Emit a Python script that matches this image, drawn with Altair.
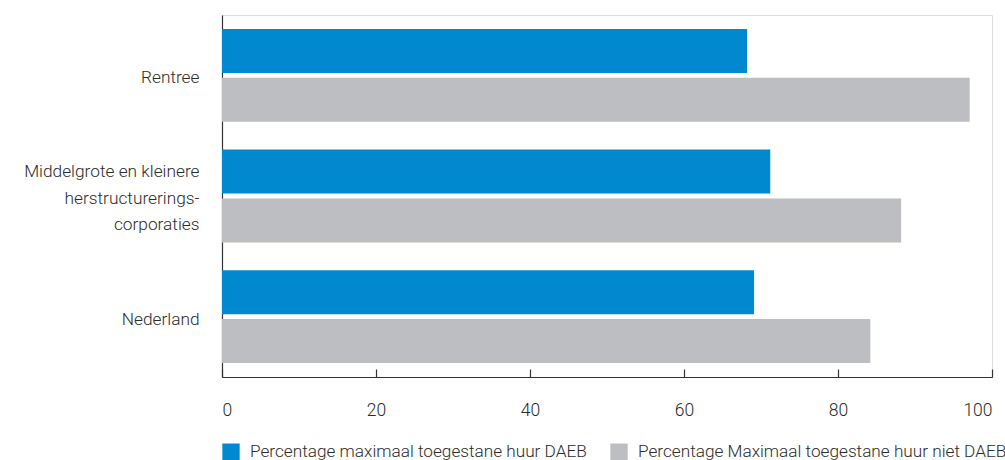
import altair as alt
import pandas as pd

categories = ["Rentree", "Middelgrote en kleinere|herstructurerings-|corporaties", "Nederland"]
series = ["Percentage maximaal toegestane huur DAEB", "Percentage Maximaal toegestane huur niet DAEB"]
daeb = [68.2, 71.2, 69.1]
niet_daeb = [97.1, 88.2, 84.2]
x_ticks = [0, 20, 40, 60, 80, 100]
colors = ["#0089CF", "#BDBEC1"]

rows = []
for c, a, b in zip(categories, daeb, niet_daeb):
    rows.append({"cat": c, "series": series[0], "value": a})
    rows.append({"cat": c, "series": series[1], "value": b})
df = pd.DataFrame(rows)

FONT = "Roboto"
TXT = "#2b2b2b"
W = 300

y_enc = alt.Y(
    "cat:N", sort=categories, title=None,
    scale=alt.Scale(paddingInner=0.23, paddingOuter=0.115),
    axis=alt.Axis(ticks=False, domain=True, domainColor="#333333", domainWidth=1.2,
                  labelPadding=23, labelFontSize=17.3, labelColor=TXT, labelFont=FONT,
                  labelFontWeight=W,
                  labelExpr="split(datum.label, '|')", labelLineHeight=26.5,
                  labelAlign="right",
                  labelOffset={"condition": {"test": "indexof(datum.value, '|') >= 0", "value": -24},
                               "value": 3}),
)
yoff = alt.YOffset("series:N", sort=series,
                   scale=alt.Scale(paddingInner=0.1, paddingOuter=0))
color = alt.Color("series:N", sort=series, scale=alt.Scale(domain=series, range=colors),
                  legend=alt.Legend(orient="none", legendX=0, legendY=428, direction="horizontal",
                                    title=None, symbolType="square", symbolSize=300,
                                    symbolStrokeWidth=0, labelFontSize=17.2, labelFont=FONT,
                                    labelFontWeight=W,
                                    labelColor=TXT, labelOffset=10, columnPadding=23,
                                    labelLimit=500))

bars = alt.Chart(df).mark_bar().encode(
    x=alt.X("value:Q", title=None, scale=alt.Scale(domain=[0, 100], nice=False),
            axis=alt.Axis(orient="bottom", values=x_ticks, ticks=False, grid=False,
                          domain=True, domainColor="#333333", domainWidth=1.2,
                          labelFlush=True, labelPadding=24, labelFontSize=17.5,
                          labelFont=FONT, labelFontWeight=W, labelColor=TXT)),
    y=y_enc, yOffset=yoff, color=color,
)

tick_layer = alt.Chart(df).mark_bar(opacity=0).encode(
    x=alt.X("value:Q", title=None, scale=alt.Scale(domain=[0, 100], nice=False),
            axis=alt.Axis(orient="top", values=x_ticks, ticks=True, tickSize=8,
                          tickColor="#333333", tickWidth=1.2, labels=False, domain=False,
                          grid=False, offset=-362)),
    y=y_enc, yOffset=yoff, color=color,
)

chart = alt.layer(bars, tick_layer).resolve_axis(x="independent").properties(
    width=770, height=362,
    autosize=alt.AutoSizeParams(type="none"),
    padding={"left": 222, "top": 15, "right": 13, "bottom": 83},
).configure_view(stroke=None).configure(background="white")

chart.save("out.html", embed_options={"renderer": "svg", "actions": False})
